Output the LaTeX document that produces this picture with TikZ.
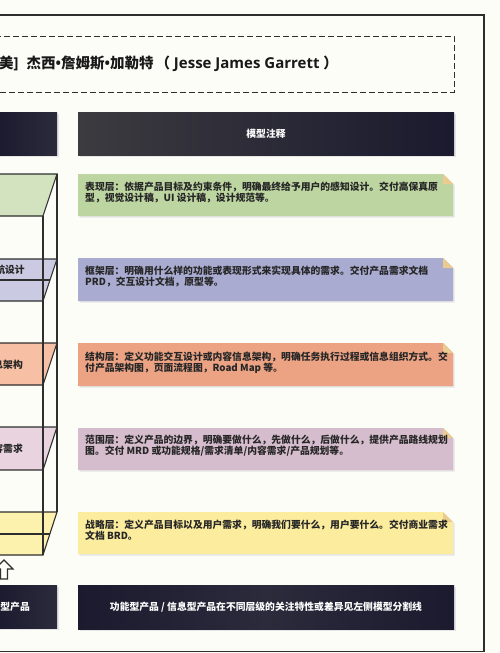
\documentclass[tikz,border=0pt]{standalone}
\usepackage{fontspec}
\newfontfamily\cjk{Noto Sans CJK SC}
\newfontfamily\lat{Open Sans}
\definecolor{bg}{HTML}{FDFDF7}
\definecolor{framec}{HTML}{2E2E2E}
\definecolor{txt}{HTML}{262626}
\definecolor{gbox}{HTML}{BDD5A1}
\definecolor{lbox}{HTML}{A9ACD0}
\definecolor{obox}{HTML}{ECA384}
\definecolor{mbox}{HTML}{D6BDCD}
\definecolor{ybox}{HTML}{FBEC9E}
\definecolor{foldc}{HTML}{EBCB8F}
\definecolor{lgreen}{HTML}{D3E3BF}
\definecolor{llav}{HTML}{CACBE3}
\definecolor{lorange}{HTML}{F7C0A4}
\definecolor{lpink}{HTML}{E8D3DE}
\definecolor{lyellow}{HTML}{FDF1AE}
\definecolor{darkA}{HTML}{3C3B40}
\definecolor{darkB}{HTML}{1B1A2E}
\definecolor{darkC}{HTML}{2C2B3C}
\tikzset{
  desc/.style={anchor=west, align=left, inner sep=0pt, text=txt,
    font=\cjk\bfseries\fontsize{9.8}{11}\selectfont},
  whitetxt/.style={inner sep=0pt, text=white,
    font=\cjk\bfseries\fontsize{9.8}{11}\selectfont},
  frag/.style={anchor=east, inner sep=0pt, text=txt,
    font=\cjk\bfseries\fontsize{9.8}{11}\selectfont},
  layer/.style={draw=framec, line width=1.1pt, line join=miter},
  edge/.style={draw=framec, line width=1.1pt},
  shadowc/.style={fill=black!10}
}
\newcommand{\notebox}[3]{% color, top, bottom
  \fill[shadowc] (79.5,#2+1.5) -- (444.5,#2+1.5) -- (454.5,#2+11.5) -- (454.5,#3+1.5) -- (79.5,#3+1.5) -- cycle;
  \fill[#1] (78,#2) -- (443,#2) -- (453,#2+10) -- (453,#3) -- (78,#3) -- cycle;
  \fill[foldc] (443,#2) -- (453,#2+10) -- (443,#2+10) -- cycle;
}
\begin{document}
\begin{tikzpicture}[x=1pt,y=-1pt]
\useasboundingbox (0,0) rectangle (500,653);
\fill[bg] (0,0) rectangle (500,653);
% outer frame
\draw[edge] (-5,15) -- (484,15) -- (484,651.5) -- (-5,651.5);
% dashed title box
\draw[draw=framec, line width=1pt, dash pattern=on 6pt off 3pt] (-5,36) -- (454,36) -- (454,92) -- (-5,92);
\node[anchor=west, inner sep=0pt, text=black!90, font=\cjk\bfseries\fontsize{14.5}{16}\selectfont] (title) at (-1,64) {美{\lat\fontsize{15}{16}\selectfont]}\hspace{8pt}杰西{\lat•}詹姆斯{\lat•}加勒特\hspace{2pt}（{\lat\fontsize{15}{16}\selectfont{} Jesse James Garrett }）};
% header boxes
\fill[shadowc] (-5,113.5) rectangle (58.5,156.5);
\shade[left color=darkB, right color=darkC] (-5,112) rectangle (57,155);
\fill[shadowc] (79.5,113.5) rectangle (455.5,156.5);
\shade[left color=darkA, right color=darkB] (78,112) rectangle (454,155);
\node[whitetxt] (hdr) at (266,134) {模型注释};
% note boxes
\notebox{gbox}{174}{216}
\node[desc] (t1) at (85,192) {表现层：依据产品目标及约束条件，明确最终给予用户的感知设计。交付高保真原\\型，视觉设计稿，UI 设计稿，设计规范等。};
\notebox{lbox}{258}{301}
\node[desc] (t2) at (85,276.5) {框架层：明确用什么样的功能或表现形式来实现具体的需求。交付产品需求文档\\PRD，交互设计文档，原型等。};
\notebox{obox}{343}{386}
\node[desc] (t3) at (85,362.5) {结构层：定义功能交互设计或内容信息架构，明确任务执行过程或信息组织方式。交\\付产品架构图，页面流程图，Road Map 等。};
\notebox{mbox}{428}{470}
\node[desc] (t4) at (85,446) {范围层：定义产品的边界，明确要做什么，先做什么，后做什么，提供产品路线规划\\图。交付 MRD 或功能规格/需求清单/内容需求/产品规划等。};
\notebox{ybox}{512}{554}
\node[desc] (t5) at (85,530) {战略层：定义产品目标以及用户需求，明确我们要什么，用户要什么。交付商业需求\\文档 BRD。};
% bottom boxes
\fill[shadowc] (-5,586.5) rectangle (58.5,629.5);
\shade[left color=darkB, right color=darkC] (-5,585) rectangle (57,628);
\node[whitetxt, anchor=east] (bl) at (30,607) {型产品};
\fill[shadowc] (79.5,586.5) rectangle (455.5,630.5);
\shade[left color=darkB, right color=darkB, middle color=darkC] (78,585) rectangle (454,629);
\node[whitetxt] (bt) at (266,607) {功能型产品 / 信息型产品在不同层级的关注特性或差异见左侧模型分割线};
% left layered model
\filldraw[layer, fill=lgreen] (-5,174) -- (57,174) -- (43,216) -- (-5,216);
\filldraw[layer, fill=llav] (-5,259) -- (57,259) -- (43,301) -- (-5,301);
\draw[layer] (-5,280) -- (50,280);
\filldraw[layer, fill=lorange] (-5,343) -- (57,343) -- (43,385) -- (-5,385);
\filldraw[layer, fill=lpink] (-5,427) -- (57,427) -- (43,470) -- (-5,470);
\filldraw[layer, fill=lyellow] (-5,512) -- (57,512) -- (43,555) -- (-5,555);
\draw[layer] (-5,534) -- (49.8,534);
\draw[edge] (43,216) -- (43,555);
\draw[edge] (57,174) -- (57,512);
\node[frag] (f1) at (25,270) {航设计};
\node[frag] (f2) at (23,365) {息架构};
\node[frag] (f3) at (23,449) {容需求};
% hollow up arrow
\draw[edge, fill=bg, line join=miter] (4,560) -- (13,569) -- (7.5,569) -- (7.5,579) -- (0.5,579) -- (0.5,569) -- (-5,569) -- cycle;
\end{tikzpicture}
\end{document}
